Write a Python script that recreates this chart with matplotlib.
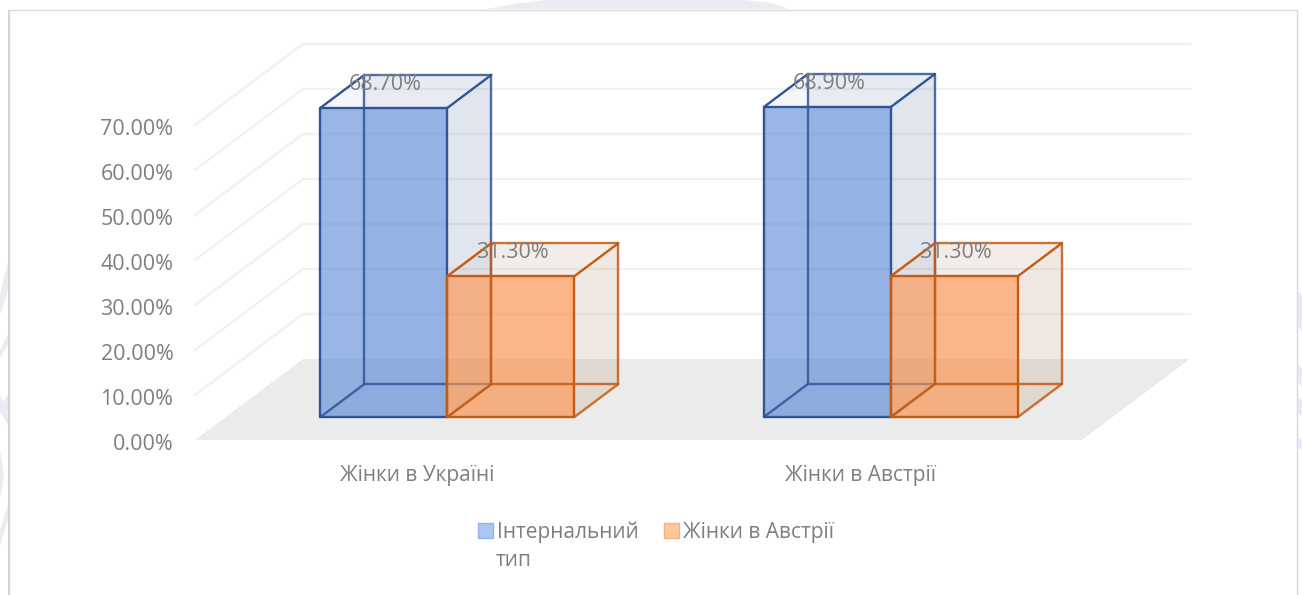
import matplotlib
matplotlib.use("Agg")
import matplotlib.pyplot as plt
from matplotlib.patches import Patch, Polygon, Rectangle
from matplotlib.transforms import ScaledTranslation

plt.rcParams["font.family"] = ["Open Sans", "DejaVu Sans"]

categories = ["Жінки в Україні", "Жінки в Австрії"]
series_names = ["Інтернальний", "Жінки в Австрії"]
series_name_wrap = "тип"
internal_values = [68.7, 68.9]
austria_values = [31.3, 31.3]
tick_values = [0, 10, 20, 30, 40, 50, 60, 70]
wall_values = [10, 20, 30, 40, 50, 60, 70]

TEXT = "#7f7f7f"
GRID = "#f1f1f1"
FLOOR = "#ebebeb"
WATERMARK = "#eaecf1"
FONT = 15.5
FONT_SMALL = 15
W, H = 1302, 595

# oblique projection: one unit of depth moves this far in x and in value
DEPTH_X = 108 / 443.5
DEPTH_Y = 81 / 4.5
BAR_WIDTH = 127 / 443.5
BAR_NEAR = 0.284
BAR_FAR = 0.691

# faint background logo showing around the chart frame, in pixels from top left
watermark_shapes = [
    [(486, 9), (520, 3), (545, 0), (745, 0), (770, 3), (789, 9)],
    [(0, 295), (8, 262), (8, 290), (0, 315)],
    [(0, 350), (8, 334), (8, 345), (0, 358)],
    [(0, 395), (3, 402), (8, 395), (8, 425), (0, 412)],
    [(0, 450), (4, 475), (0, 500)],
    [(0, 530), (8, 505), (8, 520), (0, 545)],
    [(1297, 290), (1302, 295), (1302, 333), (1297, 325)],
    [(1297, 363), (1302, 368), (1302, 387), (1297, 380)],
    [(1297, 397), (1302, 400), (1302, 417), (1297, 412)],
    [(1297, 437), (1302, 440), (1302, 450), (1297, 447)],
]


def project(x, value, depth):
    return (x + depth * DEPTH_X, value + depth * DEPTH_Y)


def face(ax, points, color, alpha, zorder):
    ax.add_patch(Polygon(points, closed=True, facecolor=color, edgecolor="none",
                         alpha=alpha, zorder=zorder, clip_on=False))


def edges(ax, points, color, zorder, alpha=1.0):
    xs = [p[0] for p in points]
    ys = [p[1] for p in points]
    ax.plot(xs, ys, color=color, lw=1.7, alpha=alpha, zorder=zorder,
            clip_on=False, solid_capstyle="round")


def draw_box(ax, left, value, fill, side, line):
    right = left + BAR_WIDTH
    a = project(left, 0, BAR_NEAR)
    b = project(right, 0, BAR_NEAR)
    c = project(right, value, BAR_NEAR)
    d = project(left, value, BAR_NEAR)
    e = project(left, 0, BAR_FAR)
    f = project(right, 0, BAR_FAR)
    g = project(right, value, BAR_FAR)
    h = project(left, value, BAR_FAR)
    z = 3 + left
    face(ax, [e, f, g, h], side, 0.07, z)
    face(ax, [a, b, f, e], side, 0.07, z)
    face(ax, [b, c, g, f], side, 0.09, z)
    face(ax, [d, c, g, h], side, 0.05, z)
    face(ax, [a, b, c, d], fill, 0.62, z + 0.01)
    edges(ax, [e, h, g, f, e], line, z + 0.02, 0.85)
    edges(ax, [a, e], line, z + 0.02, 0.85)
    edges(ax, [b, f], line, z + 0.02, 0.85)
    edges(ax, [a, b, c, d, a], line, z + 0.03)
    edges(ax, [d, h], line, z + 0.03)
    edges(ax, [c, g], line, z + 0.03)


fig = plt.figure(figsize=(13.02, 5.95), dpi=100)

for shape in watermark_shapes:
    fig.add_artist(Polygon([(x / W, 1 - y / H) for x, y in shape], closed=True, facecolor=WATERMARK,
                           edgecolor="none", transform=fig.transFigure, zorder=-3))
fig.add_artist(Rectangle((9 / W, -0.01), 1288 / W, (H - 9.5) / H + 0.01, transform=fig.transFigure,
                         facecolor="white", edgecolor="#d9d9d9", lw=1, zorder=-2))
fig.add_artist(Rectangle((7.5 / W, 0), 2.5 / W, (H - 9.5) / H, transform=fig.transFigure,
                         facecolor="#d4d4d4", edgecolor="none", zorder=-1))

ax = fig.add_axes([195 / W, (H - 440) / H, 887 / W, 315 / H])
ax.set_xlim(0, 2)
ax.set_ylim(0, 70)
ax.patch.set_visible(False)
for spine in ax.spines.values():
    spine.set_visible(False)

# floor and walls
face(ax, [project(0, 0, 0), project(2, 0, 0), project(2, 0, 1), project(0, 0, 1)], FLOOR, 1, 1)
for v in wall_values:
    ax.plot(*zip(project(0, v, 0), project(0, v, 1), project(2, v, 1)), color=GRID, lw=1.7,
            zorder=1, clip_on=False)

# bars, one group per category
for i, cat in enumerate(categories):
    left = i + 0.5 - BAR_WIDTH
    draw_box(ax, left, internal_values[i], "#5b8ad9", "#44608f", "#2f5597")
    draw_box(ax, left + BAR_WIDTH, austria_values[i], "#ff8f45", "#a8704a", "#c55a11")

for i, cat in enumerate(categories):
    left = i + 0.5 - BAR_WIDTH
    for start, vals in ((left, internal_values), (left + BAR_WIDTH, austria_values)):
        x, y = project(start + BAR_WIDTH / 2, vals[i], BAR_NEAR)
        ax.annotate(f"{vals[i]:.2f}%", (x, y), xytext=(1, 17), textcoords="offset points",
                    ha="center", va="center", color=TEXT, fontsize=FONT, zorder=20,
                    annotation_clip=False)

ax.set_yticks(tick_values)
ax.set_yticklabels([f"{v:.2f}%" for v in tick_values], fontsize=FONT, color=TEXT)
ax.set_xticks([0.5, 1.5])
ax.set_xticklabels(categories, fontsize=FONT_SMALL, color=TEXT)
ax.tick_params(axis="both", length=0)
ax.tick_params(axis="y", pad=15.5)
ax.tick_params(axis="x", pad=18)
shift_down = ScaledTranslation(0, -2 / 100, fig.dpi_scale_trans)
for label in ax.get_yticklabels():
    label.set_transform(label.get_transform() + shift_down)

handles = [Patch(facecolor="#a9c7f5", edgecolor="#8fb4ee"),
           Patch(facecolor="#ffc69c", edgecolor="#f4b183")]
fig.legend(handles, series_names, ncol=2, frameon=False, loc="upper left",
           bbox_to_anchor=(461 / W, 1 - 505 / H), fontsize=FONT_SMALL, labelcolor=TEXT,
           handlelength=0.72, handleheight=0.72, handletextpad=0.2, columnspacing=1.2,
           borderpad=0.3)
fig.text(496 / W, 1 - 560 / H, series_name_wrap, fontsize=FONT_SMALL, color=TEXT, ha="left", va="center")

fig.savefig("out.png", dpi=100)
